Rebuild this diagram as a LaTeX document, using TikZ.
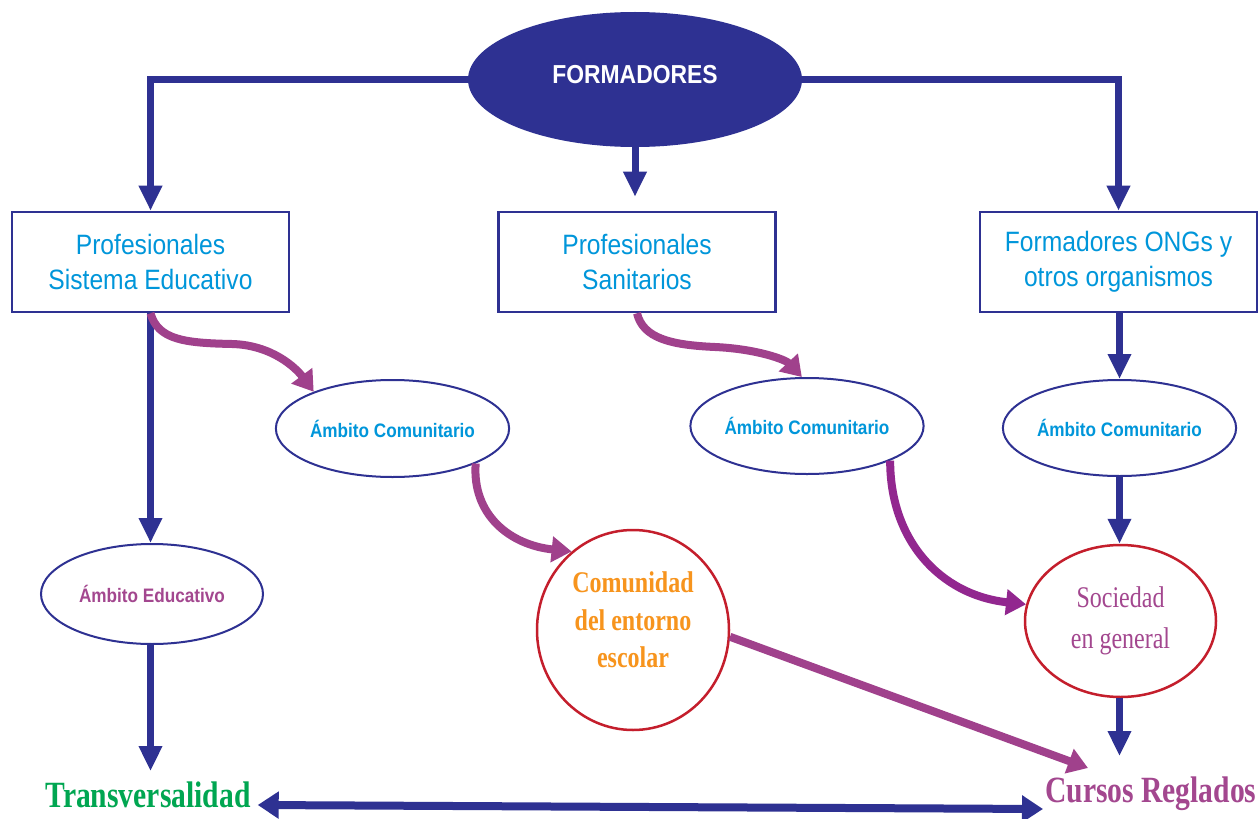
\documentclass[tikz,border=0pt]{standalone}
\usepackage{fontspec}
\usetikzlibrary{shapes.geometric,arrows.meta}
\newfontfamily\labelsans[FakeStretch=0.88]{Liberation Sans}
\newfontfamily\labelserif[FakeStretch=0.8]{Liberation Serif}
\definecolor{fblue}{RGB}{46,49,146}
\definecolor{tcyan}{RGB}{0,150,218}
\definecolor{cred}{RGB}{196,30,44}
\definecolor{ppurple}{RGB}{160,65,140}
\definecolor{pviolet}{RGB}{146,39,143}
\definecolor{torange}{RGB}{247,148,29}
\definecolor{tgreen}{RGB}{0,166,81}
\definecolor{tmag}{RGB}{163,71,143}
\begin{document}
\begin{tikzpicture}[x=1bp,y=-1bp,
  boxnode/.style={draw=fblue, line width=2.5bp, fill=white, minimum width=277bp,
    minimum height=100bp, align=center, text=tcyan, inner sep=0,
    font=\fontsize{28bp}{35bp}\selectfont\labelsans},
  ambnode/.style={ellipse, draw=fblue, line width=2bp, fill=white, inner sep=0,
    text=tcyan, font=\fontsize{19.5bp}{24bp}\selectfont\labelsans\bfseries},
  circnode/.style={ellipse, draw=cred, line width=2.5bp, fill=white, inner sep=0, align=center},
  barrow/.style={draw=fblue, line width=7bp, -{Triangle[length=25bp,width=22bp]}},
  parrow/.style={draw=ppurple, line width=8bp, -{Triangle[length=20bp,width=25bp]}},
  dblarrow/.style={draw=fblue, line width=8bp,
    {Triangle[length=21bp,width=26bp]}-{Triangle[length=21bp,width=26bp]}}]

\fill[white] (0,0) rectangle (1260,819);
\useasboundingbox (0,0) rectangle (1260,819);

% top node
\node[ellipse, fill=fblue, minimum width=334bp, minimum height=135bp, inner sep=0,
  text=white, text depth=11bp, font=\fontsize{26bp}{30bp}\selectfont\labelsans\bfseries]
  (form) at (635,79.5) {FORMADORES};

% professional groups
\node[boxnode] (box1) at (150.5,262) {Profesionales\\Sistema Educativo};
\node[boxnode] (box2) at (637,262) {Profesionales\\Sanitarios};
\node[boxnode] (box3) at (1118.5,262) {Formadores ONGs y\\otros organismos};

% fields of action
\node[ambnode, minimum width=221bp, minimum height=97bp] (amb1) at (392.5,428.5) {Ámbito Comunitario};
\node[ambnode, minimum width=222bp, minimum height=96bp] (amb2) at (807,426) {Ámbito Comunitario};
\node[ambnode, minimum width=223bp, minimum height=96bp] (amb3) at (1119.5,428) {Ámbito Comunitario};
\node[ambnode, minimum width=222bp, minimum height=100bp, text=tmag] (ambE) at (152,594) {Ámbito Educativo};

% target groups
\node[circnode, minimum width=192bp, minimum height=200bp, text=torange, text depth=20bp,
  font=\fontsize{30bp}{37.5bp}\selectfont\labelserif\bfseries]
  (com) at (633,630) {Comunidad\\del entorno\\escolar};
\node[circnode, minimum width=191bp, minimum height=152bp, text=tmag,
  font=\fontsize{30bp}{41bp}\selectfont\labelserif]
  (soc) at (1120.5,621) {Sociedad\\en general};

% outcomes
\node[anchor=base, inner sep=0, text=tgreen, font=\fontsize{37bp}{40bp}\selectfont\labelserif\bfseries]
  (trans) at (148,807) {Transversalidad};
\node[anchor=base west, inner sep=0, text=tmag, font=\fontsize{37bp}{40bp}\selectfont\labelserif\bfseries]
  (cursos) at (1045,802) {Cursos Reglados};

% blue connectors
\draw[barrow] (form.west) -| (box1.north);
\draw[barrow] (form.east) -| (box3.north);
\draw[barrow, shorten >=14bp] (form.south) -- (form.south |- box2.north);
\draw[barrow] (box1.south) -- (box1.south |- ambE.north);
\draw[barrow, shorten >=10bp] (ambE.south -| box1.south) -- (box1.south |- trans.north);
\draw[barrow] (box3.south -| amb3.north) -- (amb3.north);
\draw[barrow] (amb3.south) -- (amb3.south |- soc.north);
\draw[barrow, shorten >=20bp] (soc.south -| amb3.south) -- (amb3.south |- cursos.north);
\draw[dblarrow] ([xshift=7bp,yshift=2bp]trans.base east) -- ([xshift=-2bp,yshift=-7bp]cursos.base west);

% purple connectors
\draw[parrow] (box1.south) .. controls (158,340) and (185,343) .. (232,344)
  .. controls (272,345) and (296,368) .. (amb1.155);
\draw[parrow] (box2.south) .. controls (643,338) and (670,345) .. (715,347)
  .. controls (758,349) and (786,360) .. (amb2.96);
\draw[parrow] (amb1.south east) .. controls (472,515) and (510,545) .. (com.128);
\draw[parrow, draw=pviolet] (amb2.south east) .. controls (890,540) and (940,595) .. (soc.170);
\draw[parrow] (com.-4) -- ([xshift=43bp,yshift=34bp]cursos.base west);
\end{tikzpicture}
\end{document}
